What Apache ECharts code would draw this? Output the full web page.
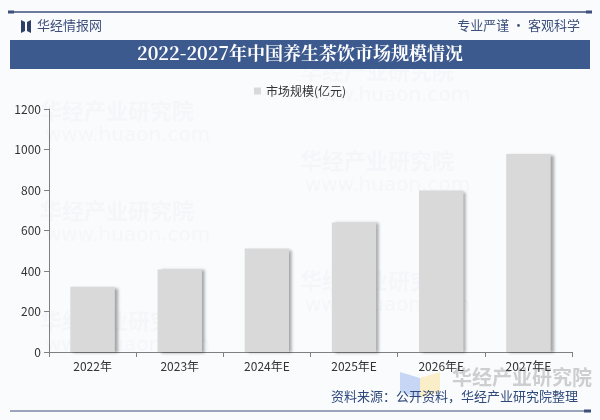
<!DOCTYPE html>
<html><head><meta charset="utf-8">
<script src="https://cdn.jsdelivr.net/npm/echarts@6/dist/echarts.min.js"></script>
<style>html,body{margin:0;padding:0;background:#fff}#c{width:600px;height:420px}</style>
</head><body><div id="c"></div>
<script>
const categories = ['2022年','2023年','2024年E','2025年E','2026年E','2027年E'];
const marketSize = [322, 408, 511, 640, 797, 978];
const seriesName = '市场规模(亿元)';
const yTicks = [0, 200, 400, 600, 800, 1000, 1200];

const chart = echarts.init(document.getElementById('c'), null, {renderer:'canvas'});
const font = '"Microsoft YaHei","Noto Sans CJK SC",sans-serif';
const wm = (x,y) => [
  {type:'text', left:x, top:y, z:0, silent:true, style:{text:'华经产业研究院', fill:'rgba(190,190,200,0.08)', font:'bold 22px "Noto Sans CJK SC"'}},
  {type:'text', left:x+5, top:y+26, z:0, silent:true, style:{text:'www.huaon.com', fill:'rgba(190,190,200,0.08)', font:'20px "DejaVu Sans"'}}
];
chart.setOption({
  backgroundColor:'#ffffff',
  animation:false,
  graphic:[
    ...wm(40,100), ...wm(300,60), ...wm(40,200), ...wm(300,150), ...wm(40,310), ...wm(300,270),
    {type:'rect', shape:{x:0,y:0,width:600,height:420}, style:{fill:'rgba(235,240,248,0.25)'}, z:-1, silent:true},
    {type:'line', shape:{x1:10,y1:12,x2:590,y2:12}, style:{stroke:'#3d4f7a', lineWidth:1.5}},
    {type:'rect', shape:{x:8,y:10.5,width:6,height:3}, style:{fill:'#3d4f7a'}},
    {type:'rect', shape:{x:586,y:10.5,width:6,height:3}, style:{fill:'#3d4f7a'}},
    {type:'polygon', shape:{points:[[21,20],[25,22],[25,31],[21,33]]}, style:{fill:'#2d3f66'}},
    {type:'polygon', shape:{points:[[31,20],[27,22],[27,31],[31,33]]}, style:{fill:'#2d3f66'}},
    {type:'text', left:37, top:19, style:{text:'华经情报网', fill:'#3d4f7a', font:'13px "Noto Sans CJK SC"'}},
    {type:'text', right:20, top:19, style:{text:'专业严谨 • 客观科学', fill:'#3d4f7a', font:'13px "Noto Sans CJK SC"'}},
    {type:'rect', shape:{x:10,y:40,width:580,height:29}, style:{fill:'#3d5a8f'}},
    {type:'text', left:'center', top:44, style:{text:'2022-2027年中国养生茶饮市场规模情况', fill:'#ffffff', font:'bold 18px "Noto Serif CJK SC","Noto Sans CJK SC"'}},
    {type:'text', left:452, top:367, z:0, silent:true, style:{text:'华经产业研究院', fill:'rgba(150,150,150,0.45)', font:'bold 20px "Noto Sans CJK SC"'}},
    {type:'polygon', z:0, silent:true, shape:{points:[[400,372],[420,378],[420,398],[400,392]]}, style:{fill:'rgba(120,160,230,0.4)'}},
    {type:'polygon', z:0, silent:true, shape:{points:[[420,378],[440,372],[440,392],[420,398]]}, style:{fill:'rgba(250,220,120,0.4)'}},
    {type:'text', right:22, top:390, style:{text:'资料来源：公开资料，华经产业研究院整理', fill:'#2f4a7a', font:'13px "Noto Sans CJK SC"'}},
    {type:'line', shape:{x1:10,y1:411,x2:590,y2:411}, style:{stroke:'#3d4f7a', lineWidth:1}},
    {type:'rect', shape:{x:584,y:409.5,width:7,height:3}, style:{fill:'#3d4f7a'}}
  ],
  legend:{
    top:80, left:'center', itemWidth:7, itemHeight:7, icon:'rect',
    textStyle:{color:'#333', fontSize:12, fontFamily:font},
    data:[seriesName]
  },
  grid:{left:49, right:28, top:109, bottom:68, containLabel:false},
  xAxis:{
    type:'category', data:categories,
    axisLine:{lineStyle:{color:'#808080'}},
    axisTick:{show:true, lineStyle:{color:'#808080'}},
    axisLabel:{color:'#333', fontSize:12, fontFamily:font, margin:8}
  },
  yAxis:{
    type:'value', min:0, max:1200, interval:200,
    axisLine:{show:true, lineStyle:{color:'#808080'}},
    axisTick:{show:true, lineStyle:{color:'#808080'}},
    splitLine:{show:false},
    axisLabel:{color:'#333', fontSize:12, fontFamily:font, margin:8,
      formatter:v => yTicks.includes(v) ? String(v) : ''}
  },
  series:[{
    name:seriesName, type:'bar', data:marketSize, barWidth:'51%',
    itemStyle:{color:'#d9d9d9', shadowColor:'rgba(0,0,0,0.35)', shadowBlur:3, shadowOffsetX:3, shadowOffsetY:1}
  }]
});
</script></body></html>
